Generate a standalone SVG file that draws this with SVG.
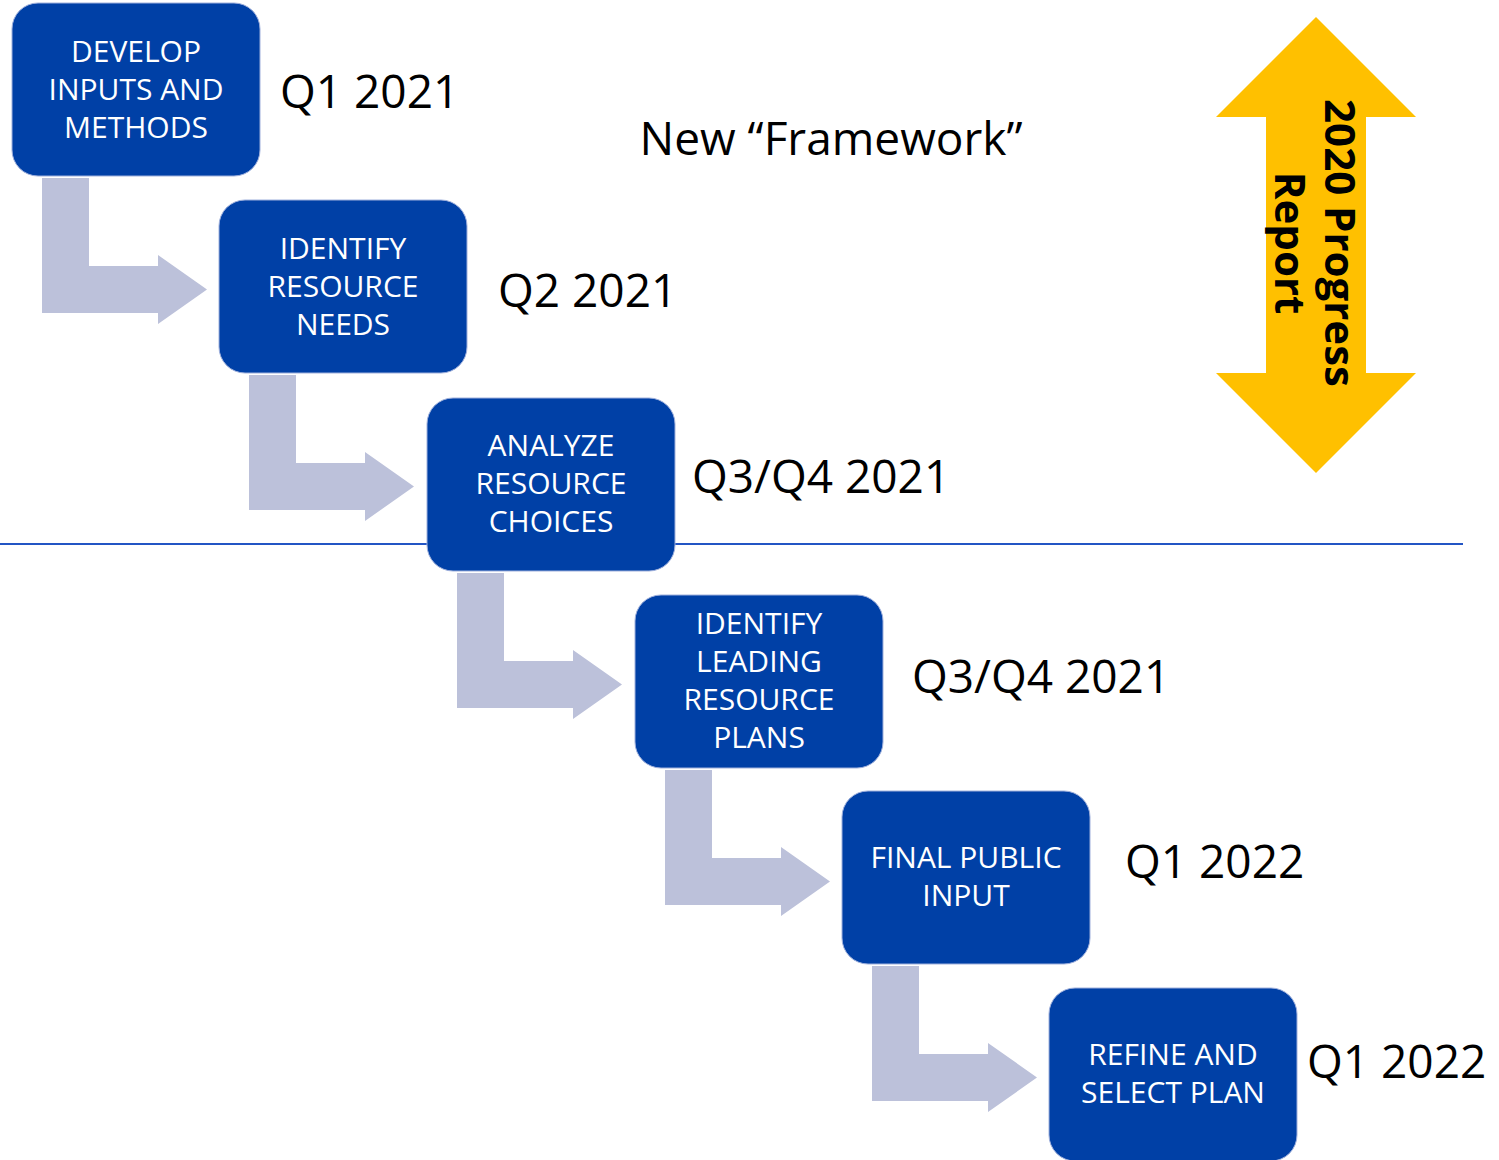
<svg xmlns="http://www.w3.org/2000/svg" xmlns:xlink="http://www.w3.org/1999/xlink" width="1499" height="1160" viewBox="0 0 1499 1160">
  <style>
    .box { fill: #0040A6; stroke: #9FB0DC; stroke-width: 1; }
    .btxt { font-family: "Open Sans", "Noto Sans", "Liberation Sans", sans-serif; font-size: 30px; fill: #FFFFFF; text-anchor: middle; }
    .lbl { font-family: "Open Sans", "Noto Sans", "Liberation Sans", sans-serif; font-size: 46px; fill: #000000; }
    .conn { fill: #BCC1DA; }
    .rpt { font-family: "Open Sans", "Noto Sans", "Liberation Sans", sans-serif; font-size: 42px; font-weight: bold; fill: #000000; text-anchor: middle; }
  </style>
  <defs>
    <path id="bent" d="M30,175 L77,175 L77,263 L146,263 L146,252 L195,286.5 L146,321 L146,310 L30,310 Z"/>
  </defs>
  <rect width="1499" height="1160" fill="#FFFFFF"/>

  <line x1="0" y1="544" x2="1463" y2="544" stroke="#2355C4" stroke-width="2"/>

  <g id="connectors" class="conn">
    <use xlink:href="#bent" transform="translate(12,3)"/>
    <use xlink:href="#bent" transform="translate(219,200)"/>
    <use xlink:href="#bent" transform="translate(427,398)"/>
    <use xlink:href="#bent" transform="translate(635,595)"/>
    <use xlink:href="#bent" transform="translate(842,791)"/>
  </g>

  <g id="node-develop">
    <rect class="box" x="12" y="3" width="248" height="173" rx="26"/>
    <text class="btxt" x="136" y="62">DEVELOP</text>
    <text class="btxt" x="136" y="100">INPUTS AND</text>
    <text class="btxt" x="136" y="138">METHODS</text>
  </g>
  <g id="node-identify-needs">
    <rect class="box" x="219" y="200" width="248" height="173" rx="26"/>
    <text class="btxt" x="343" y="259">IDENTIFY</text>
    <text class="btxt" x="343" y="297">RESOURCE</text>
    <text class="btxt" x="343" y="335">NEEDS</text>
  </g>
  <g id="node-analyze">
    <rect class="box" x="427" y="398" width="248" height="173" rx="26"/>
    <text class="btxt" x="551" y="456">ANALYZE</text>
    <text class="btxt" x="551" y="494">RESOURCE</text>
    <text class="btxt" x="551" y="532">CHOICES</text>
  </g>
  <g id="node-identify-leading">
    <rect class="box" x="635" y="595" width="248" height="173" rx="26"/>
    <text class="btxt" x="759" y="634">IDENTIFY</text>
    <text class="btxt" x="759" y="672">LEADING</text>
    <text class="btxt" x="759" y="710">RESOURCE</text>
    <text class="btxt" x="759" y="748">PLANS</text>
  </g>
  <g id="node-final-public">
    <rect class="box" x="842" y="791" width="248" height="173" rx="26"/>
    <text class="btxt" x="966" y="868">FINAL PUBLIC</text>
    <text class="btxt" x="966" y="906">INPUT</text>
  </g>
  <g id="node-refine">
    <rect class="box" x="1049" y="988" width="248" height="173" rx="26"/>
    <text class="btxt" x="1173" y="1065">REFINE AND</text>
    <text class="btxt" x="1173" y="1103">SELECT PLAN</text>
  </g>

  <g id="labels">
    <text class="lbl" x="280" y="108">Q1 2021</text>
    <text class="lbl" x="498" y="307">Q2 2021</text>
    <text class="lbl" x="692" y="493">Q3/Q4 2021</text>
    <text class="lbl" x="912" y="693">Q3/Q4 2021</text>
    <text class="lbl" x="1125" y="878">Q1 2022</text>
    <text class="lbl" x="1307" y="1078">Q1 2022</text>
    <text class="lbl" x="831" y="155" text-anchor="middle">New “Framework”</text>
  </g>

  <g id="node-progress-report">
    <polygon fill="#FFC000" points="1316,17 1416,117 1366,117 1366,373 1416,373 1316,473 1216,373 1266,373 1266,117 1216,117"/>
    <g transform="translate(1316,243) rotate(90)">
      <text class="rpt" x="0" y="-9">2020 Progress</text>
      <text class="rpt" x="0" y="41">Report</text>
    </g>
  </g>
</svg>
